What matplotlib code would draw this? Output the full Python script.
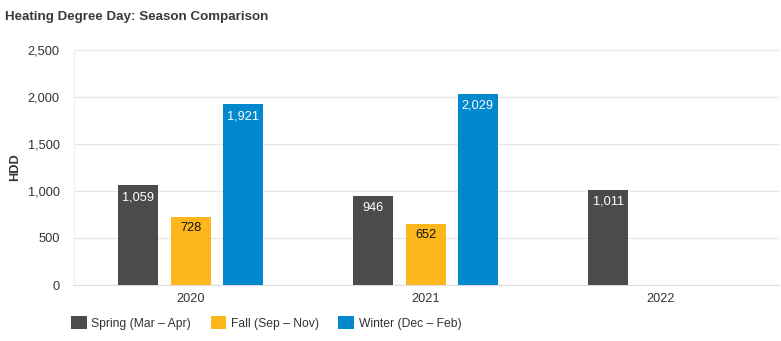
import matplotlib
matplotlib.use("Agg")
import matplotlib.pyplot as plt
from matplotlib.patches import Patch
import numpy as np

years = ["2020", "2021", "2022"]
series_names = ["Spring (Mar – Apr)", "Fall (Sep – Nov)", "Winter (Dec – Feb)"]
spring = [1059, 946, 1011]
fall = [728, 652, None]
winter = [1921, 2029, None]
colors = ["#4b4b4d", "#fdb61b", "#0288cc"]
label_colors = ["white", "#111111", "white"]
y_ticks = [0, 500, 1000, 1500, 2000, 2500]

plt.rcParams["font.family"] = ["Liberation Sans", "DejaVu Sans"]
text_color = "#333333"

fig = plt.figure(figsize=(7.81, 3.41), dpi=100)
ax = fig.add_axes([73.5 / 781, 1 - 285 / 341, 705 / 781, 235 / 341])

x = np.arange(len(years))
width = 0.17
offsets = [-0.225, 0.0, 0.22]
for vals, off, col, lc in zip([spring, fall, winter], offsets, colors, label_colors):
    for xi, v in zip(x, vals):
        if v is None:
            continue
        ax.bar(xi + off, v, width=width, color=col, zorder=3)
        ax.text(xi + off, v - 60, f"{v:,}", ha="center", va="top",
                color=lc, fontsize=9.2, zorder=4)

ax.set_xlim(-0.5, 2.5)
ax.set_ylim(0, 2500)
ax.set_yticks(y_ticks)
ax.set_yticklabels([f"{t:,}" for t in y_ticks])
ax.set_xticks(x)
ax.set_xticklabels(years)
ax.tick_params(axis="both", length=0, labelsize=9.2, colors=text_color)
ax.tick_params(axis="y", pad=10)
ax.tick_params(axis="x", pad=6)
ax.grid(axis="y", color="#e6e6e6", linewidth=0.9, zorder=0)
for s in ["top", "right"]:
    ax.spines[s].set_visible(False)
ax.spines["left"].set_color("#eeeeee")
ax.spines["bottom"].set_color("#dddddd")
ax.set_ylabel("HDD", fontsize=9.2, fontweight="bold", color=text_color, labelpad=5)

fig.text(5 / 781, 1 - 17 / 341, "Heating Degree Day: Season Comparison",
         fontsize=9.6, fontweight="bold", color="#3a3a3a", va="center", ha="left")

handles = [Patch(facecolor=c, edgecolor="none") for c in colors]
fig.legend(handles, series_names, loc="center left",
           bbox_to_anchor=(60 / 781, 1 - 323 / 341), ncol=3, frameon=False,
           fontsize=8.7, handlelength=1.3, handleheight=1.3, handletextpad=0.4,
           columnspacing=1.6, labelcolor=text_color)

fig.savefig("out.png", dpi=100)
